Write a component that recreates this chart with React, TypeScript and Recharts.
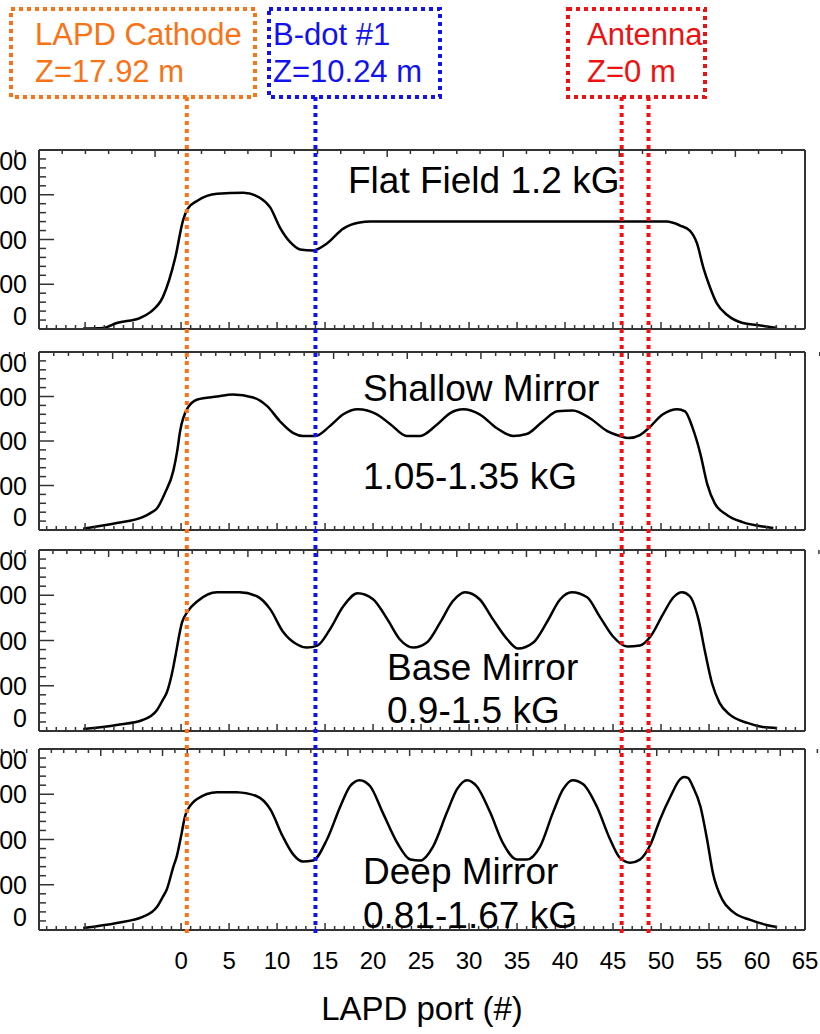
import { LineChart, Line, XAxis, YAxis } from "recharts";

const FONT = "'Liberation Sans', Arial, Helvetica, sans-serif";
const AXIS = "#333";
const ORANGE = "#f97316";
const BLUE = "#1212ee";
const RED = "#ee1111";

// x: LAPD port number, y: |B| in gauss
const flatPort = [-10.2, -8.1, -6.7, -4.3, -3.2, -1.9, -0.6, 0.2, 0.7, 1.7, 3.75, 6.5, 8.2, 9.3, 10.3, 11.4, 12.4, 13.75, 15.2, 16.9, 18.6, 19.7, 35, 50.6, 52, 53, 53.75, 54.4, 55.1, 55.8, 56.9, 58.5, 60, 62.1];
const flatField = [5, 11, 67, 122, 189, 356, 800, 1211, 1344, 1433, 1511, 1522, 1467, 1356, 1133, 967, 889, 878, 956, 1122, 1189, 1200, 1200, 1200, 1156, 1100, 956, 689, 467, 289, 156, 67, 44, 11];

const shallowPort = [-10.2, -6.7, -4.0, -3.2, -2.5, -1.7, -0.8, -0.4, -0.1, 0.6, 1.7, 3.75, 5.4, 7.5, 9.0, 10.3, 11.7, 12.7, 14.0, 15.5, 16.9, 18.4, 20.4, 21.8, 23.5, 24.9, 26.7, 28.0, 29.4, 31.1, 32.9, 34.6, 36.0, 37.7, 39.2, 40.8, 42.6, 44.4, 45.7, 46.6, 47.8, 48.6, 50.2, 51.7, 52.5, 53.3, 54.1, 54.8, 55.6, 56.9, 58.5, 61.0, 61.7];
const shallowField = [15, 78, 144, 189, 244, 411, 667, 889, 1111, 1356, 1467, 1500, 1522, 1489, 1389, 1222, 1089, 1056, 1056, 1167, 1300, 1356, 1300, 1189, 1056, 1056, 1189, 1311, 1356, 1300, 1144, 1056, 1078, 1222, 1333, 1344, 1256, 1111, 1056, 1033, 1067, 1133, 1300, 1356, 1333, 1144, 856, 522, 300, 167, 89, 33, 22];

const basePort = [-10.2, -6.7, -4.0, -2.5, -1.9, -1.5, -0.8, -0.6, 0.1, 0.7, 1.7, 3.75, 6.1, 7.9, 9.3, 10.6, 12.1, 13.1, 14.2, 15.5, 16.9, 18.4, 20.0, 21.5, 22.8, 24.2, 25.6, 27.0, 28.3, 29.6, 31.1, 32.5, 34.0, 35.1, 36.7, 38.1, 39.5, 40.7, 42.3, 43.6, 45.0, 46.5, 47.8, 48.9, 50.2, 51.3, 52.2, 53.0, 53.9, 54.6, 55.3, 56.1, 57.2, 59.0, 60.6, 62.1];
const baseField = [22, 67, 122, 233, 344, 422, 711, 822, 1200, 1322, 1433, 1533, 1533, 1489, 1344, 1100, 956, 922, 944, 1122, 1378, 1522, 1456, 1233, 1011, 922, 978, 1200, 1433, 1533, 1456, 1233, 1011, 911, 978, 1200, 1456, 1533, 1478, 1267, 1044, 933, 944, 1044, 1289, 1478, 1533, 1489, 1233, 867, 533, 311, 178, 89, 44, 33];

const deepPort = [-10.2, -6.7, -4.0, -2.5, -1.9, -1.5, -0.8, -0.45, 0.0, 0.42, 1.25, 1.63, 3.75, 5.8, 7.9, 9.3, 10.6, 11.7, 12.7, 13.75, 15.2, 16.6, 17.6, 18.6, 19.7, 21.0, 22.5, 23.9, 24.9, 26.25, 27.7, 28.75, 29.8, 30.8, 32.2, 33.5, 35.0, 36.0, 37.4, 38.75, 39.8, 40.8, 41.9, 43.3, 44.7, 45.7, 46.8, 47.8, 48.9, 49.9, 51.0, 52.0, 52.4, 52.8, 53.3, 54.1, 54.8, 55.4, 56.4, 57.5, 59.3, 61.0, 62.1];
const deepField = [22, 78, 144, 256, 367, 444, 700, 814, 1037, 1259, 1411, 1444, 1522, 1522, 1478, 1333, 1033, 833, 756, 767, 1000, 1367, 1589, 1656, 1589, 1300, 967, 778, 767, 922, 1300, 1556, 1656, 1589, 1300, 967, 778, 778, 922, 1300, 1556, 1656, 1611, 1367, 1000, 800, 744, 778, 944, 1222, 1478, 1667, 1690, 1680, 1589, 1367, 1000, 633, 333, 200, 111, 56, 33];

const xTickLabels = [0, 5, 10, 15, 20, 25, 30, 35, 40, 45, 50, 55, 60, 65];
const yTickLabels = [0, 500, 1000, 1500, 2000];

const portMarks = [
  { name: "LAPD Cathode", port: 0.6, color: ORANGE },
  { name: "B-dot #1", port: 14.0, color: BLUE },
  { name: "Antenna", port: 45.9, color: RED },
  { name: "Antenna", port: 48.7, color: RED },
];

const X_DOMAIN: [number, number] = [-14.8, 65];
const Y_DOMAIN: [number, number] = [0, 2000];
const X_TICKS = Array.from({ length: 80 }, (_, i) => i - 14);
const Y_TICKS = Array.from({ length: 21 }, (_, i) => i * 100);

const panels = [
  { key: "flat", top: 150, height: 179, ports: flatPort, field: flatField },
  { key: "shallow", top: 352, height: 178, ports: shallowPort, field: shallowField },
  { key: "base", top: 550, height: 181, ports: basePort, field: baseField },
  { key: "deep", top: 749, height: 181, ports: deepPort, field: deepField },
];

const notes = [
  { text: "Flat Field 1.2 kG", x: 348, y: 193 },
  { text: "Shallow Mirror", x: 363, y: 401 },
  { text: "1.05-1.35 kG", x: 363, y: 489 },
  { text: "Base Mirror", x: 387, y: 680 },
  { text: "0.9-1.5 kG", x: 387, y: 723 },
  { text: "Deep Mirror", x: 363, y: 884 },
  { text: "0.81-1.67 kG", x: 363, y: 928 },
];

const boxes = [
  { x: 11, w: 244, color: ORANGE, lines: ["LAPD Cathode", "Z=17.92 m"], tx: 35 },
  { x: 269, w: 171, color: BLUE, lines: ["B-dot #1", "Z=10.24 m"], tx: 273 },
  { x: 568, w: 137, color: RED, lines: ["Antenna", "Z=0 m"], tx: 587 },
];

const frame = { stroke: AXIS, strokeWidth: 2 };

function XTick(props: any) {
  const { x, y, payload, side, labels } = props;
  const v = payload.value;
  const len = v % 5 === 0 ? 7 : 4;
  const dir = side === "bottom" ? -1 : 1;
  return (
    <g>
      <line x1={x} y1={y} x2={x} y2={y + dir * len} stroke={AXIS} strokeWidth={1.5} />
      {labels && xTickLabels.includes(v) && (
        <text x={x} y={y + 39} textAnchor="middle" fontSize={24} fontFamily={FONT} fill="#000">
          {v}
        </text>
      )}
    </g>
  );
}

function YTick(props: any) {
  const { x, y, payload, side } = props;
  const v = payload.value;
  const len = v % 500 === 0 ? 15 : 7;
  const dir = side === "left" ? 1 : -1;
  const shift = v === 0 ? -13 : v === 2000 ? 11 : 0;
  return (
    <g>
      <line x1={x} y1={y} x2={x + dir * len} y2={y} stroke={AXIS} strokeWidth={1.5} />
      {side === "left" && yTickLabels.includes(v) && (
        <text x={x - 12} y={y + 9 + shift} textAnchor="end" fontSize={25} fontFamily={FONT} fill="#000">
          {v}
        </text>
      )}
    </g>
  );
}

function Panel({ panel, last }: { panel: (typeof panels)[number]; last: boolean }) {
  const mt = 3;
  const mb = last ? 1034 - (panel.top + panel.height) - 1 : 3;
  const data = panel.ports.map((p, i) => ({ port: p, field: panel.field[i] }));
  return (
    <div style={{ position: "absolute", left: 0, top: panel.top - mt - 1 }}>
      <LineChart
        width={820}
        height={panel.height + mt + mb + 2}
        data={data}
        margin={{ top: mt, right: 14, bottom: mb, left: 0 }}
      >
        <XAxis
          xAxisId="b"
          dataKey="port"
          type="number"
          domain={X_DOMAIN}
          ticks={X_TICKS}
          interval={0}
          height={1}
          tickSize={0}
          tickMargin={0}
          tickLine={false}
          axisLine={frame}
          tick={(p: any) => <XTick {...p} side="bottom" labels={last} />}
          label={
            last
              ? { value: "LAPD port (#)", position: "bottom", offset: 66, fontSize: 33, fontFamily: FONT, fill: "#000" }
              : undefined
          }
        />
        <XAxis
          xAxisId="t"
          orientation="top"
          type="number"
          domain={X_DOMAIN}
          ticks={X_TICKS}
          interval={0}
          height={1}
          tickSize={0}
          tickMargin={0}
          tickLine={false}
          axisLine={frame}
          tick={(p: any) => <XTick {...p} side="top" labels={false} />}
        />
        <YAxis
          yAxisId="l"
          type="number"
          domain={Y_DOMAIN}
          ticks={Y_TICKS}
          interval={0}
          width={39}
          tickSize={0}
          tickMargin={0}
          tickLine={false}
          axisLine={frame}
          tick={(p: any) => <YTick {...p} side="left" />}
        />
        <YAxis
          yAxisId="r"
          orientation="right"
          type="number"
          domain={Y_DOMAIN}
          ticks={Y_TICKS}
          interval={0}
          width={1}
          tickSize={0}
          tickMargin={0}
          tickLine={false}
          axisLine={frame}
          tick={(p: any) => <YTick {...p} side="right" />}
        />
        <Line
          xAxisId="b"
          yAxisId="l"
          type="monotone"
          dataKey="field"
          stroke="#000"
          strokeWidth={2.5}
          dot={false}
          activeDot={false}
          isAnimationActive={false}
        />
      </LineChart>
    </div>
  );
}

// each port marker is a two-point vertical line spanning the whole figure
function PortLines() {
  return (
    <div style={{ position: "absolute", left: 0, top: 0, pointerEvents: "none" }}>
      <LineChart width={820} height={1034} margin={{ top: 97, right: 15, bottom: 101, left: 39 }}>
        <XAxis dataKey="port" type="number" domain={X_DOMAIN} allowDataOverflow hide />
        <YAxis dataKey="span" type="number" domain={[0, 1]} hide />
        {portMarks.map((m, i) => (
          <Line
            key={i}
            data={[
              { port: m.port, span: 0 },
              { port: m.port, span: 1 },
            ]}
            dataKey="span"
            type="linear"
            stroke={m.color}
            strokeWidth={4}
            strokeDasharray="4 4"
            dot={false}
            activeDot={false}
            isAnimationActive={false}
          />
        ))}
      </LineChart>
    </div>
  );
}

function Annotations() {
  return (
    <svg width={820} height={1034} style={{ position: "absolute", left: 0, top: 0, pointerEvents: "none" }}>
      {boxes.map((b) => (
        <g key={b.lines[0]}>
          <rect x={b.x} y={9} width={b.w} height={88} fill="none" stroke={b.color} strokeWidth={4} strokeDasharray="4 4" />
          <text x={b.tx} y={45} fontSize={31} fontFamily={FONT} fill={b.color}>
            {b.lines[0]}
          </text>
          <text x={b.tx} y={82} fontSize={31} fontFamily={FONT} fill={b.color}>
            {b.lines[1]}
          </text>
        </g>
      ))}
      {notes.map((n) => (
        <text key={n.text} x={n.x} y={n.y} fontSize={37} fontFamily={FONT} fill="#000">
          {n.text}
        </text>
      ))}
    </svg>
  );
}

export default function App() {
  return (
    <div style={{ position: "absolute", left: 0, top: 0, width: 820, height: 1034, background: "#fff", overflow: "hidden" }}>
      {panels.map((p, i) => (
        <Panel key={p.key} panel={p} last={i === panels.length - 1} />
      ))}
      <PortLines />
      <Annotations />
    </div>
  );
}
